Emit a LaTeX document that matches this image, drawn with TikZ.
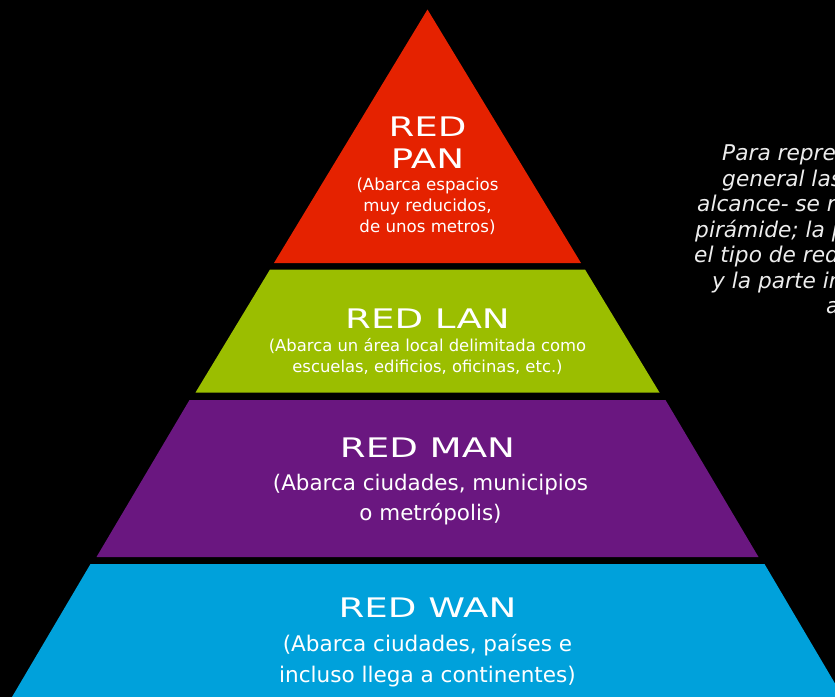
\documentclass[tikz,border=0pt]{standalone}
\usepackage{fontspec}
\setmainfont{DejaVu Sans}
\newfontfamily\titlefont[FakeStretch=1.38]{DejaVu Sans}
\definecolor{panred}{RGB}{229,34,0}
\definecolor{langreen}{RGB}{155,190,0}
\definecolor{manpurple}{RGB}{106,23,128}
\definecolor{wanblue}{RGB}{0,161,219}

\begin{document}
\begin{tikzpicture}[x=0.03cm,y=-0.03cm,
    title/.style={font=\titlefont\fontsize{23}{28}\selectfont,text=white,inner sep=0pt,anchor=base},
    desc/.style={text=white,inner sep=0pt,anchor=base,align=center},
    note/.style={font=\itshape\fontsize{18.5}{22}\selectfont,text=white!93!black,inner sep=0pt,anchor=base west}]
    \fill[black] (0,0) rectangle (835,697);
    \clip (0,0) rectangle (835,697);
    \fill[panred] (427.5,9.5) -- (581,263) -- (274,263) -- cycle;
    \fill[langreen] (270,269.5) -- (585,269.5) -- (659.5,392.5) -- (195.5,392.5) -- cycle;
    \fill[manpurple] (189.5,400) -- (665.5,400) -- (758.5,557) -- (96.5,557) -- cycle;
    \fill[wanblue] (90.5,564) -- (764.5,564) -- (843,697) -- (12,697) -- cycle;

    \node[title] (pan1) at (427.5,136.7) {RED};
    \node[title] (pan2) at (427.5,168.3) {PAN};
    \node[desc,font=\fontsize{14.2}{17.9}\selectfont] (pantext) at (427.5,232.3)
      {(Abarca espacios\\muy reducidos,\\de unos metros)};

    \node[title] (lan) at (427.5,328.7) {RED LAN};
    \node[desc,font=\fontsize{14}{17.9}\selectfont] (lantext) at (427.5,372.7)
      {(Abarca un área local delimitada como\\escuelas, edificios, oficinas, etc.)};

    \node[title] (man) at (427.5,457.7) {RED MAN};
    \node[desc,font=\fontsize{18.3}{26.2}\selectfont] (mantext) at (430.5,520.7)
      {(Abarca ciudades, municipios\\o metrópolis)};

    \node[title] (wan) at (427.5,617.7) {RED WAN};
    \node[desc,font=\fontsize{18.4}{26.1}\selectfont] (wantext) at (427.5,682.3)
      {(Abarca ciudades, países e\\incluso llega a continentes)};

    \node[note] (n1) at (722,160.7) {Para repres};
    \node[note] (n2) at (722,186.2) {general las};
    \node[note] (n3) at (697,211.7) {alcance- se r};
    \node[note] (n4) at (695,237.2) {pirámide; la p};
    \node[note] (n5) at (694,262.7) {el tipo de red};
    \node[note] (n6) at (712,288.2) {y la parte in};
    \node[note] (n7) at (826,313.7) {a};
\end{tikzpicture}
\end{document}
